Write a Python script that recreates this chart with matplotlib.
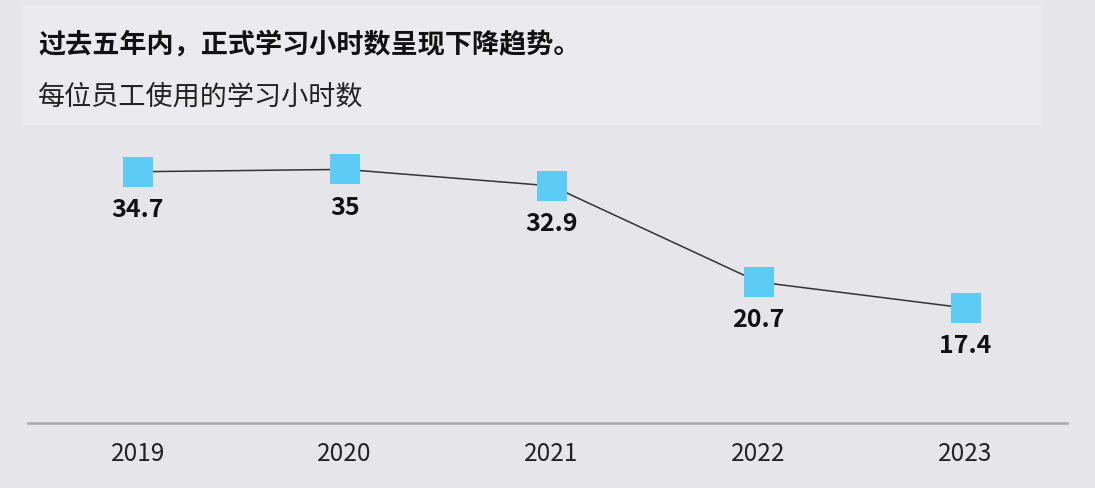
import matplotlib
matplotlib.use("Agg")
import matplotlib.pyplot as plt
from matplotlib.patches import Rectangle

plt.rcParams['font.family'] = ['Noto Sans CJK SC', 'DejaVu Sans']

# data
years = ['2019', '2020', '2021', '2022', '2023']
hours = [34.7, 35, 32.9, 20.7, 17.4]
labels = ['34.7', '35', '32.9', '20.7', '17.4']

title = '过去五年内，正式学习小时数呈现下降趋势。'
subtitle = '每位员工使用的学习小时数'

W, H = 1095, 488
fig = plt.figure(figsize=(W / 100, H / 100), dpi=100)
fig.patch.set_facecolor('#e6e6ea')

# lighter header box
fig.patches.append(Rectangle((22 / W, 1 - 125 / H), (1042 - 22) / W, 120 / H,
                             transform=fig.transFigure, fc='#ebebef', ec='none',
                             zorder=0))
fig.text(38 / W, 1 - 45 / H, title, fontsize=19.5, fontweight='bold',
         color='#111111', va='center', ha='left')
fig.text(38 / W, 1 - 97 / H, subtitle, fontsize=19.5, style='italic',
         color='#222222', va='center', ha='left')

ax = fig.add_axes([28 / W, (H - 423) / H, (1067 - 28) / W, (423 - 130) / H])
ax.set_facecolor('none')
x = list(range(len(years)))
ax.plot(x, hours, color='#333333', lw=1.1, zorder=2)
ax.plot(x, hours, ls='none', marker='s', markersize=21.5, color='#5ccbf6',
        markeredgewidth=0, zorder=3)
for xi, v, lab in zip(x, hours, labels):
    ax.annotate(lab, (xi, v), xytext=(0, -27.5), textcoords='offset points',
                ha='center', va='center', fontsize=18, fontweight='bold',
                color='#111111')

ax.set_xlim(-0.53, 4.49)
ax.set_ylim(2.8, 40)
ax.set_xticks(x)
ax.set_xticklabels(years, fontsize=17.5, color='#222222')
ax.tick_params(axis='x', length=0, pad=13)
ax.set_yticks([])
for side in ['top', 'left', 'right']:
    ax.spines[side].set_visible(False)
ax.spines['bottom'].set_color('#a8a8ad')
ax.spines['bottom'].set_linewidth(1.8)

fig.savefig('out.png', dpi=100, facecolor=fig.get_facecolor())
